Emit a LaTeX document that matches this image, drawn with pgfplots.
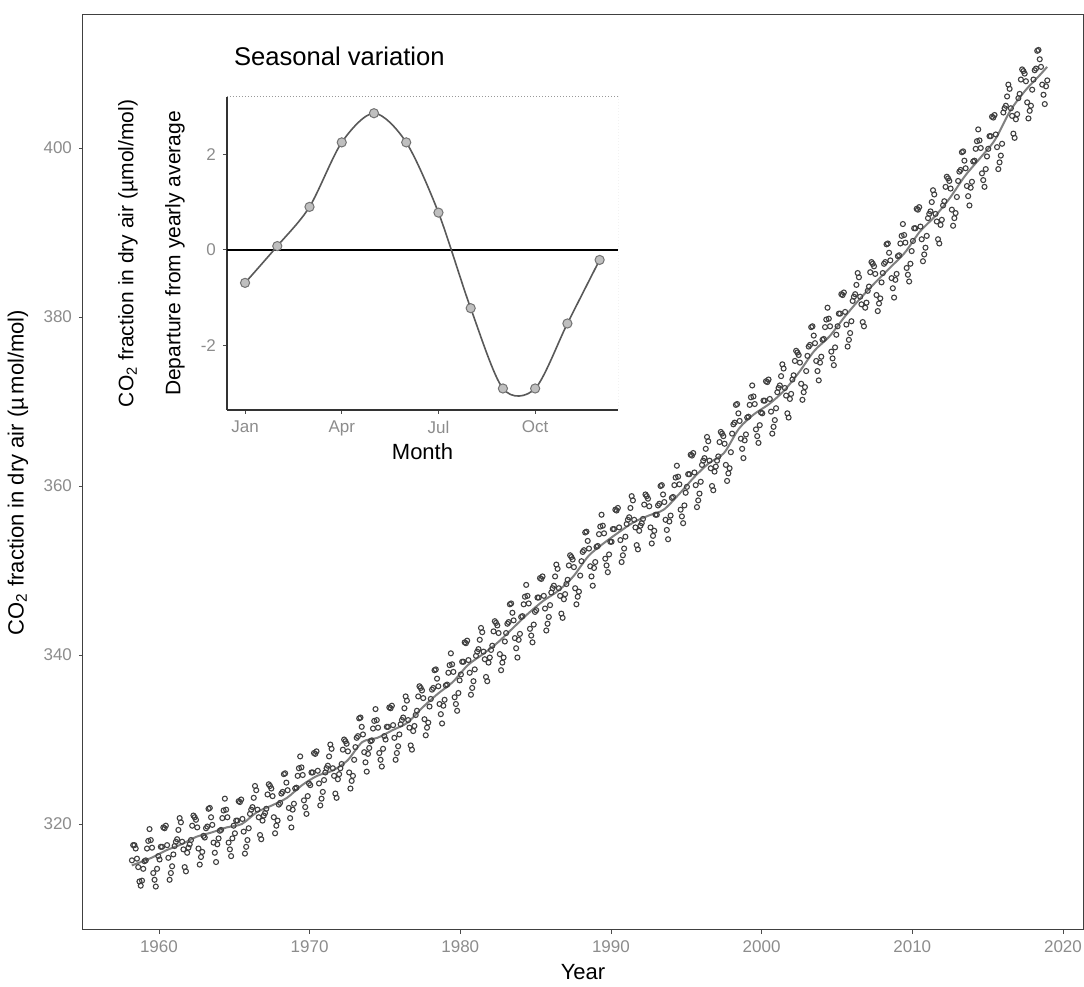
\documentclass[border=0pt]{standalone}
\usepackage{fontspec}
\setmainfont{Liberation Sans}
\usepackage{pgfplots}
\usepackage{pgfplotstable}
\pgfplotsset{compat=1.18}

% monthly means, one row per year
\pgfplotstableread{
yr   m1    m2    m3    m4    m5    m6    m7    m8    m9    m10   m11   m12
1958 nan   nan   315.7 317.5 317.5 317.1 315.9 314.9 313.2 312.7 313.3 314.7
1959 315.6 315.7 317.1 318.0 319.4 318.1 317.2 314.2 313.4 312.6 314.7 316.2
1960 315.8 317.3 317.3 319.6 319.5 319.8 317.5 316.0 313.4 314.2 315.0 316.4
1961 317.4 317.9 318.2 319.3 320.7 320.2 317.9 317.0 314.9 314.4 316.6 317.2
1962 317.6 318.1 319.8 321.0 320.8 320.5 319.6 317.1 315.2 316.1 316.7 318.6
1963 318.4 319.5 319.7 321.8 321.9 320.8 319.9 317.8 316.6 315.5 317.6 318.3
1964 319.2 319.3 320.7 321.6 323.0 321.7 320.8 317.8 317.0 316.2 318.3 319.8
1965 318.9 320.4 320.4 322.7 322.6 322.9 320.6 319.1 316.5 317.3 318.1 319.5
1966 321.2 321.7 322.0 323.1 324.5 324.0 321.7 320.8 318.7 318.2 320.4 321.0
1967 321.3 321.8 323.5 324.7 324.5 324.2 323.3 320.8 318.9 319.8 320.4 322.3
1968 322.5 323.6 323.8 325.9 326.0 324.9 324.0 321.9 320.7 319.6 321.7 322.4
1969 324.2 324.3 325.7 326.6 328.0 326.7 325.8 322.8 322.0 321.2 323.3 324.8
1970 324.6 326.1 326.1 328.4 328.3 328.6 326.3 324.8 322.2 323.0 323.8 325.2
1971 326.1 326.6 326.9 328.0 329.4 328.9 326.6 325.7 323.6 323.1 325.3 325.9
1972 326.6 327.1 328.8 330.0 329.8 329.5 328.6 326.1 324.2 325.1 325.7 327.6
1973 329.1 330.2 330.4 332.5 332.6 331.5 330.6 328.5 327.3 326.2 328.3 329.0
1974 329.8 329.9 331.3 332.2 333.6 332.3 331.4 328.4 327.6 326.8 328.9 330.4
1975 330.0 331.5 331.5 333.8 333.7 334.0 331.7 330.2 327.6 328.4 329.2 330.6
1976 331.8 332.3 332.6 333.7 335.1 334.6 332.3 331.4 329.3 328.8 331.0 331.6
1977 332.9 333.4 335.1 336.3 336.1 335.8 334.9 332.4 330.5 331.4 332.0 333.9
1978 334.8 335.9 336.1 338.2 338.3 337.2 336.3 334.2 333.0 331.9 334.0 334.7
1979 336.4 336.5 337.9 338.8 340.2 338.9 338.0 335.0 334.2 333.4 335.5 337.0
1980 337.7 339.2 339.2 341.5 341.4 341.7 339.4 337.9 335.3 336.1 336.9 338.3
1981 339.9 340.4 340.7 341.8 343.2 342.7 340.4 339.5 337.4 336.9 339.1 339.7
1982 340.6 341.1 342.8 344.0 343.8 343.5 342.6 340.1 338.2 339.1 339.7 341.6
1983 342.6 343.7 343.9 346.0 346.1 345.0 344.1 342.0 340.8 339.7 341.8 342.5
1984 344.5 344.6 346.0 346.9 348.3 347.0 346.1 343.1 342.3 341.5 343.6 345.1
1985 345.3 346.8 346.8 349.1 349.0 349.3 347.0 345.5 342.9 343.7 344.5 345.9
1986 347.4 347.9 348.2 349.3 350.7 350.2 347.9 347.0 344.9 344.4 346.6 347.2
1987 348.4 348.9 350.6 351.8 351.6 351.3 350.4 347.9 346.0 346.9 347.5 349.4
1988 351.1 352.2 352.4 354.5 354.6 353.5 352.6 350.5 349.3 348.2 350.3 351.0
1989 352.8 352.9 354.3 355.2 356.6 355.3 354.4 351.4 350.6 349.8 351.9 353.4
1990 353.4 354.9 354.9 357.2 357.1 357.4 355.1 353.6 351.0 351.8 352.6 354.0
1991 355.5 356.0 356.3 357.4 358.8 358.3 356.0 355.1 353.0 352.5 354.7 355.3
1992 355.6 356.1 357.8 359.0 358.8 358.5 357.6 355.1 353.2 354.1 354.7 356.6
1993 356.6 357.7 357.9 360.0 360.1 359.0 358.1 356.0 354.8 353.7 355.8 356.5
1994 358.6 358.7 360.1 361.0 362.4 361.1 360.2 357.2 356.4 355.6 357.7 359.2
1995 359.9 361.4 361.4 363.7 363.6 363.9 361.6 360.1 357.5 358.3 359.1 360.5
1996 362.5 363.0 363.3 364.4 365.8 365.3 363.0 362.1 360.0 359.5 361.7 362.3
1997 363.0 363.5 365.2 366.4 366.2 365.9 365.0 362.5 360.6 361.5 362.1 364.0
1998 366.2 367.3 367.5 369.6 369.7 368.6 367.7 365.6 364.4 363.3 365.4 366.1
1999 368.1 368.2 369.6 370.5 371.9 370.6 369.7 366.7 365.9 365.1 367.2 368.7
2000 368.6 370.1 370.1 372.4 372.3 372.6 370.3 368.8 366.2 367.0 367.8 369.2
2001 371.1 371.6 371.9 373.0 374.4 373.9 371.6 370.7 368.6 368.1 370.3 370.9
2002 372.6 373.1 374.8 376.0 375.8 375.5 374.6 372.1 370.2 371.1 371.7 373.6
2003 375.4 376.5 376.7 378.8 378.9 377.8 376.9 374.8 373.6 372.5 374.6 375.3
2004 377.3 377.4 378.8 379.7 381.1 379.8 378.9 375.9 375.1 374.3 376.4 377.9
2005 378.9 380.4 380.4 382.7 382.6 382.9 380.6 379.1 376.5 377.3 378.1 379.5
2006 381.9 382.4 382.7 383.8 385.2 384.7 382.4 381.5 379.4 378.9 381.1 381.7
2007 383.1 383.6 385.3 386.5 386.3 386.0 385.1 382.6 380.7 381.6 382.2 384.1
2008 385.2 386.3 386.5 388.6 388.7 387.6 386.7 384.6 383.4 382.3 384.4 385.1
2009 387.2 387.3 388.7 389.6 391.0 389.7 388.8 385.8 385.0 384.2 386.3 387.8
2010 389.0 390.5 390.5 392.8 392.7 393.0 390.7 389.2 386.6 387.4 388.2 389.6
2011 391.7 392.2 392.5 393.6 395.0 394.5 392.2 391.3 389.2 388.7 390.9 391.5
2012 393.2 393.7 395.4 396.6 396.4 396.1 395.2 392.7 390.8 391.7 392.3 394.2
2013 396.1 397.2 397.4 399.5 399.6 398.5 397.6 395.5 394.3 393.2 395.3 396.0
2014 398.4 398.5 399.9 400.8 402.2 400.9 400.0 397.0 396.2 395.4 397.5 399.0
2015 399.9 401.4 401.4 403.7 403.6 403.9 401.6 400.1 397.5 398.3 399.1 400.5
2016 404.2 404.7 405.0 406.1 407.5 407.0 404.7 403.8 401.7 401.2 403.4 404.0
2017 405.9 406.4 408.1 409.3 409.1 408.8 407.9 405.4 403.5 404.4 405.0 406.9
2018 408.1 409.2 409.4 411.5 411.6 410.5 409.6 407.5 406.3 405.2 407.3 408.0
}\monthly

% long-term trend (yearly means at mid-year)
\pgfplotstableread{
t      co2
1958.2 315.1
1958.5 315.3
1959.5 316.0
1960.5 316.9
1961.5 317.6
1962.5 318.5
1963.5 319.0
1964.5 319.6
1965.5 320.0
1966.5 321.4
1967.5 322.2
1968.5 323.1
1969.5 324.6
1970.5 325.7
1971.5 326.3
1972.5 327.5
1973.5 329.7
1974.5 330.2
1975.5 331.1
1976.5 332.0
1977.5 333.8
1978.5 335.4
1979.5 336.8
1980.5 338.8
1981.5 340.1
1982.5 341.5
1983.5 343.2
1984.5 344.9
1985.5 346.4
1986.5 347.6
1987.5 349.3
1988.5 351.7
1989.5 353.2
1990.5 354.5
1991.5 355.7
1992.5 356.5
1993.5 357.2
1994.5 359.0
1995.5 361.0
1996.5 362.7
1997.5 363.9
1998.5 366.8
1999.5 368.5
2000.5 369.7
2001.5 371.3
2002.5 373.5
2003.5 376.0
2004.5 377.7
2005.5 380.0
2006.5 382.1
2007.5 384.0
2008.5 385.8
2009.5 387.6
2010.5 390.1
2011.5 391.9
2012.5 394.1
2013.5 396.7
2014.5 398.8
2015.5 401.0
2016.5 404.4
2017.5 406.8
2018.5 408.7
2018.95 409.6
}\trend

% seasonal departure, month 1 = Jan
\pgfplotstableread{
mon dep
1  -0.69
2   0.08
3   0.90
4   2.25
5   2.86
6   2.25
7   0.78
8  -1.22
9  -2.90
10 -2.90
11 -1.54
12 -0.21
}\season

\begin{document}
\begin{tikzpicture}
\begin{axis}[
    scale only axis, width=500pt, height=457.5pt,
    xmin=1954.96, xmax=2021.33, ymin=307.46, ymax=415.74,
    xtick={1960,1970,...,2020}, ytick={320,340,...,400},
    /pgf/number format/1000 sep={},
    /pgf/number format/assume math mode=true,
    tick align=outside, tick pos=left, major tick length=2pt,
    tick style={black!70, line width=0.4pt},
    tick label style={font=\fontsize{8.5}{10}\selectfont, text=black!45},
    axis line style={black!75, line width=0.5pt},
    xlabel={Year},
    ylabel={CO\textsubscript{2} fraction in dry air (µ\,mol/mol)},
    label style={font=\fontsize{11}{13}\selectfont},
    xlabel style={at={(axis description cs:0.5,-0.046)}, anchor=center},
    ylabel style={at={(axis description cs:-0.065,0.5)}, anchor=center},
  ]
  \pgfplotsinvokeforeach{1,...,12}{
    \addplot[only marks, mark=o, mark size=1.25pt, black!75,
             mark options={line width=0.55pt}]
      table[x expr=\thisrow{yr}+(#1-0.5)/12, y=m#1] {\monthly};
  }
  \addplot[black!50, line width=1pt, smooth] table[x=t, y=co2] {\trend};
  \coordinate (sw) at (rel axis cs:0,0);
  \coordinate (ne) at (rel axis cs:1,1);
  \coordinate (nw) at (rel axis cs:0,1);
\end{axis}

\begin{axis}[
    at={(nw)}, anchor=north west, xshift=72pt, yshift=-41pt,
    scale only axis, width=195.5pt, height=156.5pt,
    xmin=0.44, xmax=12.57, ymin=-3.35, ymax=3.2,
    xtick={1,4,7,10}, xticklabels={Jan,Apr,Jul,Oct},
    ytick={-2,0,2},
    /pgf/number format/assume math mode=true,
    axis x line*=bottom, axis y line*=left,
    axis background/.style={fill=white},
    tick align=outside, major tick length=2pt,
    tick style={black!70, line width=0.4pt},
    tick label style={font=\fontsize{8.5}{10}\selectfont, text=black!45},
    axis line style={black!80, line width=0.6pt, -},
    title={Seasonal variation},
    title style={at={(axis description cs:0,1)}, anchor=base west,
                 yshift=9.5pt, font=\fontsize{12.8}{15}\selectfont},
    xlabel={Month},
    ylabel={CO\textsubscript{2} fraction in dry air (µmol/mol)\\Departure from yearly average},
    xlabel style={font=\fontsize{11}{13}\selectfont,
                  at={(axis description cs:0.5,-0.134)}, anchor=center},
    ylabel style={font=\fontsize{10.5}{23.5}\selectfont,
                  at={(axis description cs:-0.193,0.5)}, anchor=center, align=center},
  ]
  \draw[black!40, densely dotted, line width=0.5pt]
    (rel axis cs:0,1) -- (rel axis cs:1,1) -- (rel axis cs:1,0);
  \addplot[black, line width=0.9pt] coordinates {(0.44,0) (12.57,0)};
  \addplot[black!65, line width=0.8pt, smooth, mark=*, mark size=2.3pt,
           mark options={fill=black!25, draw=black!55, line width=0.5pt}]
    table[x=mon, y=dep] {\season};
\end{axis}

\pgfresetboundingbox
\path[use as bounding box] ([xshift=-41.5pt, yshift=-28.5pt]sw) rectangle ([xshift=0.5pt, yshift=7.5pt]ne);
\end{tikzpicture}
\end{document}
